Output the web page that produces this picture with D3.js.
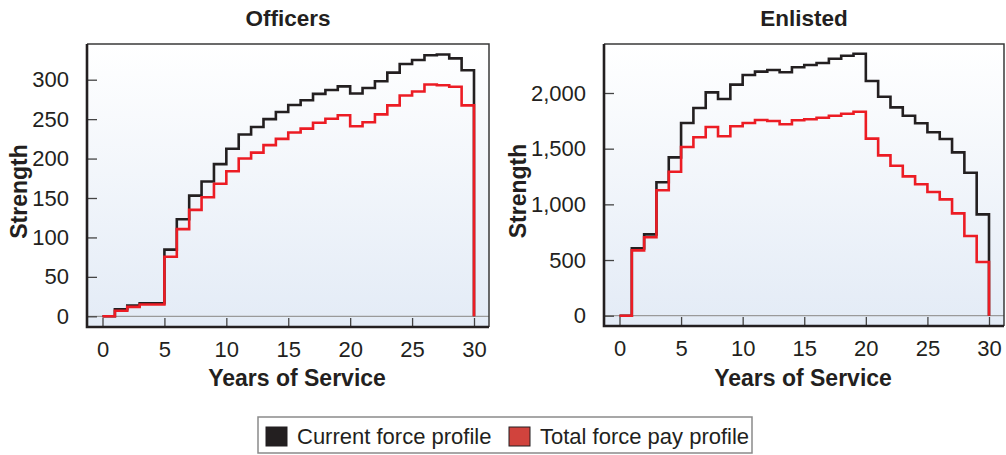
<!DOCTYPE html>
<html><head><meta charset="utf-8">
<script src="https://cdn.jsdelivr.net/npm/d3@7"></script>
<style>
html,body{margin:0;padding:0;background:#fff;}
svg{display:block;font-family:"Liberation Sans",Arial,Helvetica,sans-serif;}
</style></head>
<body><svg id="chart" width="1006" height="455"></svg>
<script>
// ---- data ----
const years = d3.range(0, 31);
const xTicks = [0, 5, 10, 15, 20, 25, 30];
const officerTicks = [0, 50, 100, 150, 200, 250, 300];
const enlistedTicks = [0, 500, 1000, 1500, 2000];
const officersCurrent = [0, 9, 13.5, 16.5, 16.5, 84.5, 123, 153, 171, 193, 212.5, 230.5, 240, 250, 259, 268, 274, 282, 287, 291.5, 282.5, 289.5, 298, 309, 320, 325, 331, 332, 327, 312];
const officersPay = [0, 7, 12, 15, 15, 75.5, 110.5, 135, 151, 168, 184, 200, 207.5, 217, 225, 233, 238, 245.5, 250.5, 255, 241, 246, 256, 267.5, 280, 285, 294, 293, 291, 267.5];
const enlistedCurrent = [0, 605, 730, 1198, 1422, 1730, 1865, 2006, 1946, 2075, 2162, 2192, 2207, 2186, 2231, 2252, 2270, 2308, 2335, 2353, 2108, 1967, 1871, 1796, 1728, 1647, 1587, 1467, 1284, 910];
const enlistedPay = [0, 587, 704, 1126, 1293, 1515, 1602, 1695, 1611, 1701, 1731, 1757, 1749, 1719, 1755, 1764, 1778, 1796, 1814, 1832, 1590, 1440, 1347, 1251, 1180, 1111, 1045, 919, 716, 482];
const seriesNames = ["Current force profile", "Total force pay profile"];

const BLACK = "#231f20", RED = "#ec1c24";
const svg = d3.select("#chart");

const defs = svg.append("defs");
const grad = defs.append("linearGradient").attr("id", "bg").attr("x1", 0).attr("y1", 0).attr("x2", 0).attr("y2", 1);
grad.append("stop").attr("offset", "0%").attr("stop-color", "#ffffff");
grad.append("stop").attr("offset", "100%").attr("stop-color", "#e3ebf6");

function panel(opt) {
  const {left, right, top, bottom, title, yTicks, yMax, y0px, yTopPx, current, pay, strengthX, xTitleX} = opt;
  const g = svg.append("g");
  const x = d3.scaleLinear().domain([0, 30]).range([left + 15.5, right - 15]);
  const y = d3.scaleLinear().domain([0, yMax]).range([y0px, yTopPx]);

  g.append("rect").attr("x", left).attr("y", top).attr("width", right - left).attr("height", bottom - top)
    .attr("fill", "url(#bg)");
  g.append("line").attr("x1", left).attr("x2", right).attr("y1", y(0)).attr("y2", y(0))
    .attr("stroke", "#9a9a9a").attr("stroke-width", 1.2);

  g.append("path").attr("d", `M${left},${top}H${right}V${bottom}`).attr("fill", "none")
    .attr("stroke", "#3a3a3a").attr("stroke-width", 1.5);

  const xa = d3.axisBottom(x).tickValues(xTicks).tickSize(-9).tickPadding(14).tickFormat(d3.format("d"));
  const xg = g.append("g").attr("transform", `translate(0,${bottom})`).call(xa);
  xg.select(".domain").remove();
  xg.selectAll(".tick line").attr("stroke", "#444").attr("stroke-width", 1.3);
  xg.selectAll(".tick text").attr("font-size", 22).attr("fill", "#231f20").attr("font-family", "Liberation Sans, Arial, sans-serif");

  const ya = d3.axisLeft(y).tickValues(yTicks).tickSize(-10).tickPadding(18).tickFormat(d3.format(","));
  const yg = g.append("g").attr("transform", `translate(${left},0)`).call(ya);
  yg.select(".domain").remove();
  yg.selectAll(".tick line").attr("stroke", "#444").attr("stroke-width", 1.3);
  yg.selectAll(".tick text").attr("font-size", 22).attr("fill", "#231f20").attr("font-family", "Liberation Sans, Arial, sans-serif");

  g.append("path").attr("d", `M${left},${top}V${bottom}H${right}`).attr("fill", "none")
    .attr("stroke", "#231f20").attr("stroke-width", 2.6);

  const line = d3.line().x(d => x(d[0])).y(d => y(d[1])).curve(d3.curveStepAfter);
  const pts = vals => years.map(i => [i, i < vals.length ? vals[i] : 0]);
  g.append("path").attr("d", line(pts(current))).attr("fill", "none").attr("stroke", BLACK).attr("stroke-width", 2.6);
  g.append("path").attr("d", line(pts(pay))).attr("fill", "none").attr("stroke", RED).attr("stroke-width", 2.6);

  const cx = (left + right) / 2;
  g.append("text").attr("x", cx).attr("y", 26).attr("text-anchor", "middle").attr("font-size", 22.5)
    .attr("font-weight", "bold").attr("fill", "#231f20").text(title);
  g.append("text").attr("x", xTitleX).attr("y", 386).attr("text-anchor", "middle").attr("font-size", 23)
    .attr("font-weight", "bold").attr("fill", "#231f20").text("Years of Service");
  g.append("text").attr("transform", `translate(${strengthX},${(top + bottom) / 2 + 6}) rotate(-90)`)
    .attr("text-anchor", "middle").attr("font-size", 23).attr("font-weight", "bold").attr("fill", "#231f20").text("Strength");
}

panel({left: 87, right: 489, top: 44, bottom: 327, title: "Officers", yTicks: officerTicks, yMax: 300, y0px: 316.3, yTopPx: 79.7,
  current: officersCurrent, pay: officersPay, strengthX: 27, xTitleX: 297});
panel({left: 604, right: 1004, top: 44, bottom: 326, title: "Enlisted", yTicks: enlistedTicks, yMax: 2000, y0px: 315.7, yTopPx: 93,
  current: enlistedCurrent, pay: enlistedPay, strengthX: 526, xTitleX: 803});

// legend
const lg = svg.append("g");
lg.append("rect").attr("x", 258).attr("y", 417).attr("width", 494).attr("height", 36)
  .attr("fill", "#fff").attr("stroke", "#8a8a8a").attr("stroke-width", 1.5);
const legendFill = ["#231f20", "#d1433d"];
const legendX = [266, 509];
seriesNames.forEach((n, i) => {
  lg.append("rect").attr("x", legendX[i]).attr("y", 427).attr("width", 21).attr("height", 19)
    .attr("fill", legendFill[i]).attr("stroke", "#231f20").attr("stroke-width", 1);
  lg.append("text").attr("x", legendX[i] + 31).attr("y", 444).attr("font-size", 22).attr("fill", "#231f20").text(n);
});
</script></body></html>
